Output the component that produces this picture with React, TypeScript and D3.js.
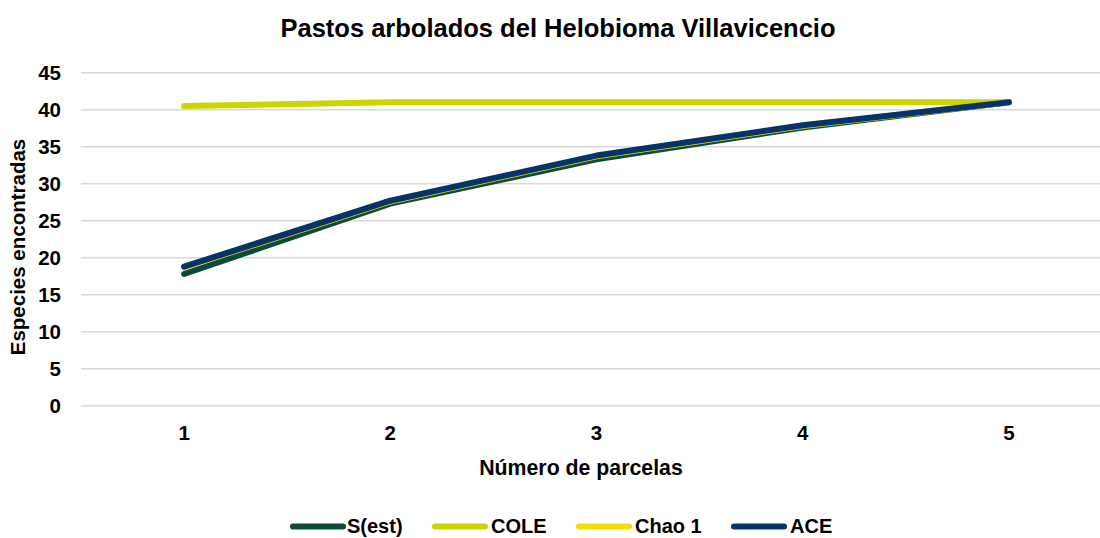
import React from "react";
import * as d3 from "d3";

const categories = ["1", "2", "3", "4", "5"];
const sEst = [17.8, 27.3, 33.3, 37.6, 41];
const cole = [40.5, 41, 41, 41, 41];
const chao1 = [18.7, 27.6, 33.7, 37.8, 41];
const ace = [18.8, 27.7, 33.8, 37.9, 41];
const yTicks = [0, 5, 10, 15, 20, 25, 30, 35, 40, 45];

const series = [
  { name: "S(est)", values: sEst, color: "#0c4a3b" },
  { name: "COLE", values: cole, color: "#cdd400" },
  { name: "Chao 1", values: chao1, color: "#f7dc00" },
  { name: "ACE", values: ace, color: "#07336b" },
];

const W = 1100;
const H = 538;
const left = 81;
const right = 1112;
const top = 72.7;
const bottom = 405.7;
const FONT = "'Liberation Sans', Arial, sans-serif";
const FS = 20.5;

export default function App() {
  const x = d3.scaleBand<string>().domain(categories).range([left, right]);
  const y = d3.scaleLinear().domain([0, 45]).range([bottom, top]);
  const cx = (c: string) => (x(c) ?? 0) + x.bandwidth() / 2;
  const line = d3
    .line<number>()
    .x((_, i) => cx(categories[i]))
    .y((d) => y(d));

  const legendItems = [
    { x: 290, tx: 347 },
    { x: 432, tx: 491 },
    { x: 576, tx: 635 },
    { x: 731, tx: 790 },
  ];
  const legendY = 526.5;

  return (
    <svg
      width={W}
      height={H}
      style={{ position: "absolute", left: 0, top: 0, background: "#fff" }}
      fontFamily={FONT}
    >
      <rect width={W} height={H} fill="#fff" />
      <text x={558} y={28} dy="0.36em" textAnchor="middle" fontSize={25.5} fontWeight="bold" fill="#000">
        Pastos arbolados del Helobioma Villavicencio
      </text>
      {yTicks.map((t) => (
        <g key={t}>
          <line x1={left} x2={right} y1={y(t)} y2={y(t)} stroke="#d9d9d9" strokeWidth={1.5} />
          <text x={61} y={y(t)} dy="0.36em" textAnchor="end" fontSize={FS} fontWeight="bold" fill="#000">
            {t}
          </text>
        </g>
      ))}
      {categories.map((c) => (
        <text key={c} x={cx(c)} y={433} dy="0.36em" textAnchor="middle" fontSize={FS} fontWeight="bold" fill="#000">
          {c}
        </text>
      ))}
      <text x={581} y={467} dy="0.36em" textAnchor="middle" fontSize={21.3} fontWeight="bold" fill="#000">
        Número de parcelas
      </text>
      <text
        transform={`translate(18, 247) rotate(-90)`}
        dy="0.36em"
        textAnchor="middle"
        fontSize={FS}
        fontWeight="bold"
        fill="#000"
      >
        Especies encontradas
      </text>
      {series.map((s) => (
        <path
          key={s.name}
          d={line(s.values) ?? ""}
          fill="none"
          stroke={s.color}
          strokeWidth={6}
          strokeLinecap="round"
          strokeLinejoin="round"
        />
      ))}
      {series.map((s, i) => (
        <g key={s.name}>
          <line
            x1={legendItems[i].x + 3}
            x2={legendItems[i].x + 53}
            y1={legendY}
            y2={legendY}
            stroke={s.color}
            strokeWidth={6}
            strokeLinecap="round"
          />
          <text x={legendItems[i].tx} y={legendY} dy="0.34em" fontSize={20} fontWeight="bold" fill="#000">
            {s.name}
          </text>
        </g>
      ))}
    </svg>
  );
}
